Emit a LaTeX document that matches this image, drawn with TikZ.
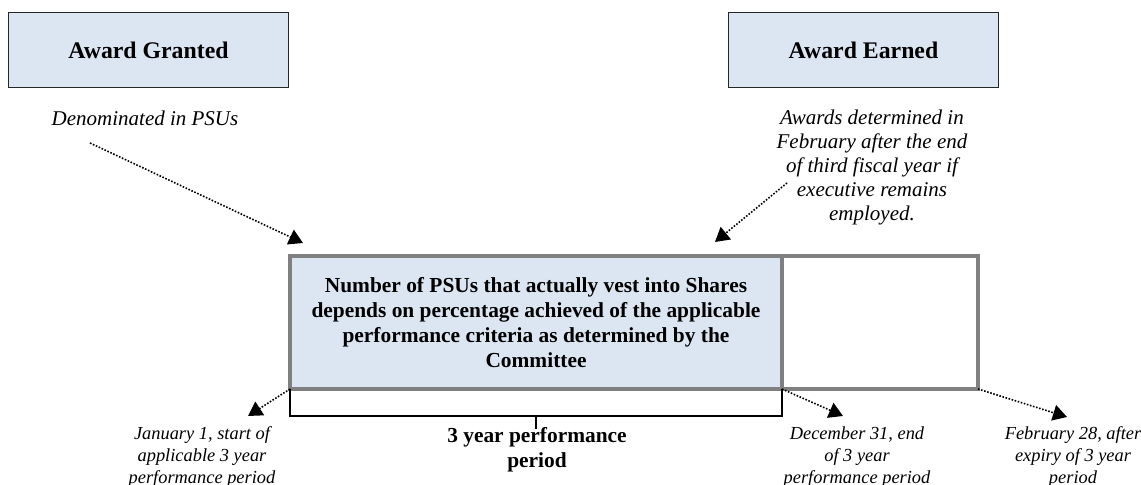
\documentclass[tikz,border=0pt]{standalone}
\usepackage{fontspec}
\setmainfont{Liberation Serif}
\usepackage{xcolor}
\definecolor{psuBlue}{HTML}{DCE6F2}
\definecolor{psuGrey}{HTML}{808080}
\usepackage{tikz}
\usetikzlibrary{arrows.meta, positioning}

\begin{document}
\begin{tikzpicture}[
    x=0.5pt, y=-0.5pt,
    awardbox/.style={draw=black!85, fill=psuBlue, rectangle, line width=0.9pt, align=center, font=\fontsize{11.9}{14}\selectfont\bfseries, minimum width=140pt, minimum height=37.5pt, outer sep=0pt},
    vestbox/.style={draw=psuGrey, fill=psuBlue, rectangle, line width=1.6pt, align=center, font=\fontsize{10.7}{12.5}\selectfont\bfseries, minimum width=246pt, minimum height=66.5pt, outer sep=0pt},
    blankbox/.style={vestbox, fill=white, minimum width=98pt},
    note/.style={align=center, inner sep=0pt, font=\fontsize{10.5}{12}\selectfont\itshape},
    datenote/.style={note, font=\fontsize{9.2}{10.8}\selectfont\itshape},
    pointer/.style={-{Triangle[length=7pt, width=8pt]}, line width=0.8pt, dash pattern=on 0.8pt off 0.8pt},
    bracket/.style={draw=black, line width=0.7pt}
]
\useasboundingbox (0,0) rectangle (1141,485);

\node (granted) [awardbox] at (148.5,50) {Award Granted};
\node (earned) [awardbox, minimum width=135pt, right=220pt of granted] {Award Earned};

\node (denom) [note] at (145,118) {Denominated in PSUs};
\node (determ) [note] at (872,167) {Awards determined in\\February after the end\\of third fiscal year if\\executive remains\\employed.};

\node (vest) [vestbox] at (536,322.5) {Number of PSUs that actually vest into Shares\\depends on percentage achieved of the applicable\\performance criteria as determined by the\\Committee};
\node (after) [blankbox, right=0pt of vest] {};

% performance period bracket
\draw[bracket] (vest.south west) -- ++(0,27) -| (vest.south east);
\draw[bracket] ([yshift=-13.5pt]vest.south) -- ++(0,13);
\node (period) [font=\fontsize{10.7}{12.5}\selectfont\bfseries, align=center, inner sep=0pt] at (537,450) {3 year performance\\period};

\node (jan) [datenote] at (202,457) {January 1, start of\\applicable 3 year\\performance period};
\node (dec) [datenote] at (857,457) {December 31, end\\of 3 year\\performance period};
\node (feb) [datenote] at (1073,457) {February 28, after\\expiry of 3 year\\period};

\coordinate (grantTail) at (90,143);
\coordinate (grantTip) at (303,243);
\coordinate (earnTail) at (787,183);
\coordinate (earnTip) at (715,242);
\coordinate (janTip) at (248,416);
\coordinate (decTip) at (843,416);
\coordinate (febTip) at (1067,417);

\draw[pointer] (grantTail) -- (grantTip);
\draw[pointer] (earnTail) -- (earnTip);
\draw[pointer] (vest.south west) -- (janTip);
\draw[pointer] (vest.south east) -- (decTip);
\draw[pointer] (after.south east) -- (febTip);

\end{tikzpicture}
\end{document}
